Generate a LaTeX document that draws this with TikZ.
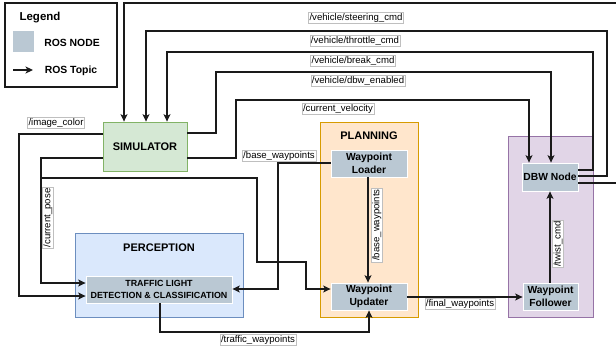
\documentclass[tikz,border=0pt]{standalone}
\usepackage{fontspec}
\setmainfont{Liberation Sans}
\usetikzlibrary{arrows.meta}
\definecolor{simfill}{HTML}{D5E8D4}\definecolor{simdraw}{HTML}{82B366}
\definecolor{perfill}{HTML}{DAE8FC}\definecolor{perdraw}{HTML}{6C8EBF}
\definecolor{plafill}{HTML}{FFE6CC}\definecolor{pladraw}{HTML}{D79B00}
\definecolor{dbwfill}{HTML}{E1D5E7}\definecolor{dbwdraw}{HTML}{9673A6}
\definecolor{rosfill}{HTML}{BAC8D3}
\definecolor{wire}{HTML}{1A1A1A}
\tikzset{
  topic/.style={draw=wire,line width=1.3pt,-{Stealth[length=7.5pt,width=7pt,inset=2pt]}},
  plainwire/.style={draw=wire,line width=1.3pt},
  lbl/.style={fill=white,draw=black!25,line width=0.4pt,inner sep=1pt,font=\fontsize{9.6}{10}\selectfont},
  rosnode/.style={fill=rosfill,draw=white,line width=0.8pt,inner sep=0pt,align=center,font=\bfseries\fontsize{10.3}{12.5}\selectfont},
  group/.style={line width=0.8pt,inner sep=0pt},
  title/.style={font=\bfseries\fontsize{11}{13}\selectfont}
}
\begin{document}
\begin{tikzpicture}[x=1pt,y=-1pt]
\useasboundingbox (0,0) rectangle (616,350);
\clip (0,0) rectangle (616,350);
\fill[white] (0,0) rectangle (616,350);
% legend
\node[draw=wire,line width=1.3pt,minimum width=112pt,minimum height=84pt,inner sep=0pt] (legend) at (61,45) {};
\node[font=\bfseries\fontsize{11.5}{13}\selectfont] (legtitle) at (40,18) {Legend};
\node[fill=rosfill,draw=white,line width=0.8pt,minimum width=22pt,minimum height=22pt,inner sep=0pt] (legsq) at (23,41) {};
\node[font=\bfseries\fontsize{10.4}{12}\selectfont] (legnode) at (72,43) {ROS NODE};
\coordinate (la) at (13,70);
\coordinate (lb) at (33,70);
\draw[topic] (la) -- (lb);
\node[font=\bfseries\fontsize{10.4}{12}\selectfont] (legtopic) at (71,70.5) {ROS Topic};
% groups
\node[group,fill=perfill,draw=perdraw,minimum width=168pt,minimum height=84pt] (per) at (159,275) {};
\node[title] (pertitle) at (159,248) {PERCEPTION};
\node[group,fill=plafill,draw=pladraw,minimum width=98pt,minimum height=195pt] (pla) at (369,219.5) {};
\node[title] (platitle) at (369,136) {PLANNING};
\node[group,fill=dbwfill,draw=dbwdraw,minimum width=85pt,minimum height=181pt] (dbwg) at (550.5,226.5) {};
% nodes
\node[fill=simfill,draw=simdraw,line width=0.8pt,minimum width=84pt,minimum height=49pt,inner sep=0pt,font=\bfseries\fontsize{11}{13}\selectfont] (sim) at (145,146.5) {SIMULATOR};
\node[rosnode,minimum width=146pt,minimum height=27pt,font=\bfseries\fontsize{8.9}{12}\selectfont] (tl) at (159,289.5) {TRAFFIC LIGHT\\DETECTION \& CLASSIFICATION};
\node[rosnode,minimum width=76pt,minimum height=27pt] (ldr) at (369,163.5) {Waypoint\\Loader};
\node[rosnode,minimum width=76pt,minimum height=27pt] (upd) at (369,296.5) {Waypoint\\Updater};
\node[rosnode,minimum width=56pt,minimum height=28pt] (dbw) at (550,177) {DBW Node};
\node[rosnode,minimum width=55pt,minimum height=27pt] (fol) at (550.5,296.5) {Waypoint\\Follower};
% connectors DBW -> simulator
\draw[topic] (dbw.east |- 0,183) -| (620,3) -| (sim.north -| 124,0);
\draw[topic] (dbw.east |- 0,176) -| (607,31) -| (sim.north -| 146,0);
\draw[topic] (dbw.east |- 0,170) -| (593,52) -| (sim.north -| 167,0);
% simulator -> DBW
\draw[topic] (sim.east |- 0,133) -| (216,72) -| (dbw.north -| 551,0);
\draw[topic] (sim.east |- 0,158) -| (236,100) -| (dbw.north -| 529,0);
% simulator -> perception
\draw[topic] (sim.west |- 0,134) -| (19,296) -- (tl.west |- 0,296);
\draw[topic] (sim.west |- 0,158) -| (41,283) -- (tl.west |- 0,283);
\coordinate (posebr) at (41,178);
\draw[topic] (posebr) -| (257,262) -| (306,289) -- (upd.west |- 0,289);
% loader
\draw[topic] (ldr.west |- 0,163) -| (278,289) -- (tl.east |- 0,289);
\draw[topic] (ldr.south -| 368,0) -- (upd.north -| 368,0);
% traffic -> updater
\draw[topic] (tl.south -| 160,0) |- (369,332) -- (upd.south);
% updater -> follower -> dbw
\draw[topic] (upd.east |- 0,297) -- (fol.west |- 0,297);
\draw[topic] (fol.north -| 550,0) -- (dbw.south -| 550,0);
% labels
\node[lbl] (l1) at (356,18) {/vehicle/steering\_cmd};
\node[lbl] (l2) at (355,41) {/vehicle/throttle\_cmd};
\node[lbl] (l3) at (353,61) {/vehicle/break\_cmd};
\node[lbl] (l4) at (358,81) {/vehicle/dbw\_enabled};
\node[lbl] (l5) at (338,109) {/current\_velocity};
\node[lbl] (l6) at (56,123) {/image\_color};
\node[lbl] (l7) at (279,156) {/base\_waypoints};
\node[lbl,rotate=90] (l8) at (48,218) {/current\_pose};
\node[lbl,rotate=90] (l9) at (377,225) {/base\_waypoints};
\node[lbl,rotate=90] (l10) at (558,244) {/twist\_cmd};
\node[lbl] (l11) at (258,340) {/traffic\_waypoints};
\node[lbl] (l12) at (460,304) {/final\_waypoints};
\end{tikzpicture}
\end{document}
